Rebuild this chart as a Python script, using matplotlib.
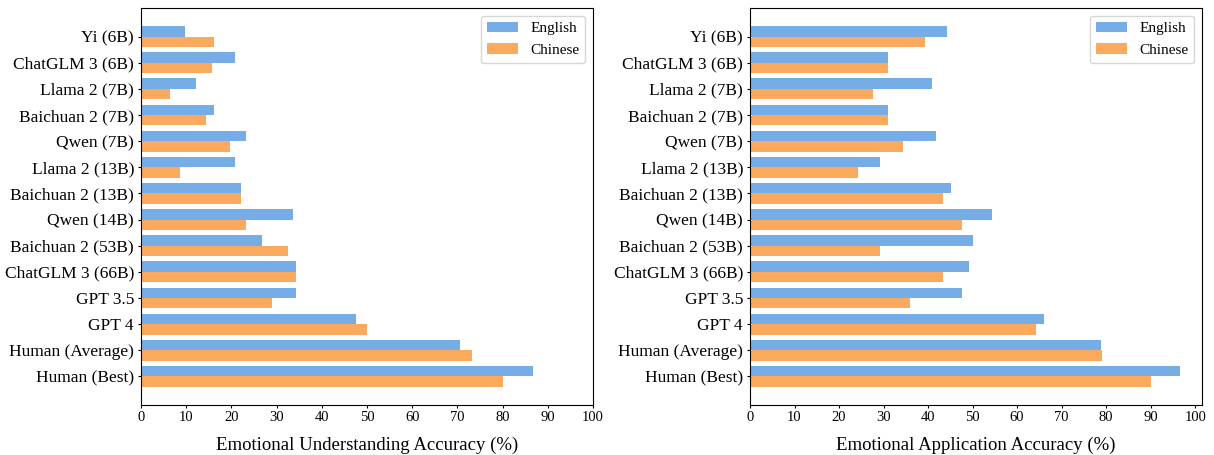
import numpy as np
import matplotlib
matplotlib.use("Agg")
import matplotlib.pyplot as plt

plt.rcParams['font.family'] = ['Liberation Serif', 'DejaVu Serif']

models = ["Yi (6B)", "ChatGLM 3 (6B)", "Llama 2 (7B)", "Baichuan 2 (7B)", "Qwen (7B)",
          "Llama 2 (13B)", "Baichuan 2 (13B)", "Qwen (14B)", "Baichuan 2 (53B)",
          "ChatGLM 3 (66B)", "GPT 3.5", "GPT 4", "Human (Average)", "Human (Best)"]

# Emotional understanding
eu_english = [9.8, 20.9, 12.2, 16.2, 23.3, 20.9, 22.2, 33.7, 26.8, 34.4, 34.4, 47.6, 70.6, 86.8]
eu_chinese = [16.2, 15.8, 6.5, 14.4, 19.8, 8.7, 22.2, 23.3, 32.6, 34.4, 29.0, 50.0, 73.3, 80.1]

# Emotional application
ea_english = [44.3, 31.0, 40.9, 31.0, 41.8, 29.2, 45.2, 54.3, 50.1, 49.2, 47.6, 66.0, 78.8, 96.7]
ea_chinese = [39.3, 31.0, 27.7, 31.0, 34.4, 24.3, 43.4, 47.6, 29.2, 43.4, 35.9, 64.2, 79.0, 90.0]

blue = '#77ade6'
orange = '#fba95c'

fig = plt.figure(figsize=(12.14, 4.55), dpi=100)
ax1 = fig.add_axes([141/1214, 50/455, 452/1214, 397/455])
ax2 = fig.add_axes([750/1214, 50/455, 452/1214, 397/455])

y = np.arange(len(models))
h = 0.4

for ax, en, zh, xlabel in [(ax1, eu_english, eu_chinese, "Emotional Understanding Accuracy (%)"),
                           (ax2, ea_english, ea_chinese, "Emotional Application Accuracy (%)")]:
    ax.barh(y - h/2, en, height=h, color=blue, label='English')
    ax.barh(y + h/2, zh, height=h, color=orange, label='Chinese')
    ax.set_yticks(y)
    ax.set_yticklabels(models, fontsize=12.5)
    ax.invert_yaxis()
    ax.set_xticks(np.arange(0, 101, 10))
    ax.tick_params(axis='x', labelsize=10.5, length=2.5, pad=2)
    ax.tick_params(axis='y', length=2.5, pad=2.5)
    ax.set_xlabel(xlabel, fontsize=13.5, labelpad=9)
    ax.legend(loc='upper right', fontsize=11)

ax1.set_xlim(0, 100)

fig.savefig("out.png", dpi=100)
